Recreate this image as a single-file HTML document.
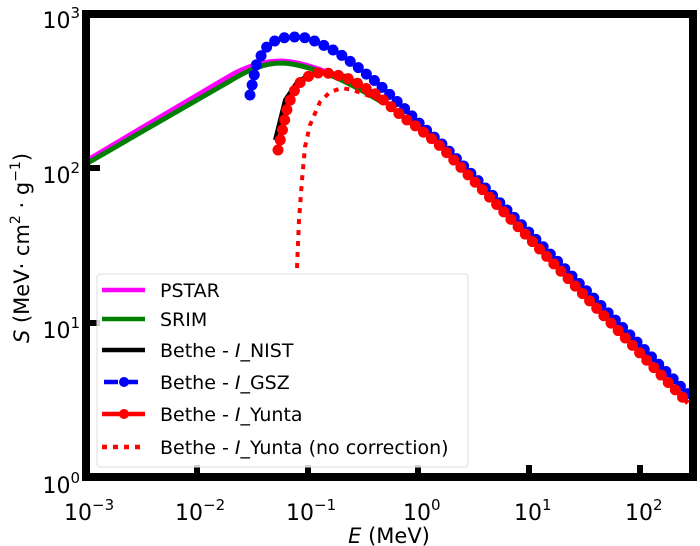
<!DOCTYPE html>
<html><head><meta charset="utf-8"><style>
html,body{margin:0;padding:0;background:#fff;}
svg{display:block;font-family:"DejaVu Sans","Liberation Sans",sans-serif;}
</style></head><body>
<svg width="700" height="546" viewBox="0 0 700 546" xmlns="http://www.w3.org/2000/svg">
<rect width="700" height="546" fill="#fff"/>
<!-- ticks -->
<g fill="#000">
<rect x="194" y="465" width="6" height="9"/>
<rect x="305" y="465" width="6" height="9"/>
<rect x="415" y="465" width="6" height="9"/>
<rect x="526" y="465" width="6" height="9"/>
<rect x="637" y="465" width="6" height="9"/>
<rect x="89" y="165" width="11" height="6"/>
<rect x="89" y="320" width="11" height="6"/>
</g>
<!-- SRIM / PSTAR -->
<path d="M86,163 L150,125 L228,79 C245,69 262,63 282,63 C300,64 315,70 330,75 C345,81 360,89 380,101" fill="none" stroke="#ff00ff" stroke-width="5" transform="translate(0,-2)"/>
<path d="M86,164 L150,127 L230,81 C248,70 264,63 282,63 C300,64 315,70 330,75 C345,81 360,89 380,101" fill="none" stroke="#008000" stroke-width="5"/>
<!-- NIST black -->
<path d="M275,140 L285,100 L297,82 L310,74 L327,72 L345,76" fill="none" stroke="#000" stroke-width="4"/>
<!-- dotted red -->
<path d="M297,268 L299,220 L302,180 L305,147 L310,125 L320,102 L330,92 L342,88 L353,90 L380,100" fill="none" stroke="#f00" stroke-width="4" stroke-dasharray="5 6"/>
<!-- blue -->
<path d="M250,95 L257,62 L268,45 L278,39 L288,37 L298,37 L307,38 L317,42 L327,47 L337,52 L347,59 L355,65 L365,73 L375,81 L385,90 L403,107 L423,127 L443,145 L690,396" fill="none" stroke="#00f" stroke-width="4" stroke-dasharray="14 6"/>
<path d="M250,95 L257,62 L268,45 L278,39 L288,37 L298,37 L307,38 L317,42 L327,47 L337,52 L347,59 L355,65 L365,73 L375,81 L385,90 L403,107 L423,127 L443,145 L690,396" fill="none" stroke="#00f" stroke-width="11" stroke-linecap="round" stroke-dasharray="0 10.3"/>
<!-- red -->
<path d="M278,150 L288,105 L297,85 L307,77 L317,73 L327,73 L337,75 L347,78 L357,83 L367,89 L377,95 L387,103 L397,112 L407,120 L417,127 L427,135 L437,143 L447,153 L688,403" fill="none" stroke="#f00" stroke-width="5"/>
<path d="M278,150 L288,105 L297,85 L307,77 L317,73 L327,73 L337,75 L347,78 L357,83 L367,89 L377,95 L387,103 L397,112 L407,120 L417,127 L427,135 L437,143 L447,153 L688,403" fill="none" stroke="#f00" stroke-width="11" stroke-linecap="round" stroke-dasharray="0 10.3"/>
<!-- legend -->
<rect x="97" y="274" width="371" height="193" rx="3" fill="#fff" fill-opacity="0.8" stroke="#ddd" stroke-width="1"/>
<g stroke-width="4.5" fill="none">
<line x1="102" y1="290" x2="145" y2="290" stroke="#ff00ff"/>
<line x1="102" y1="319" x2="145" y2="319" stroke="#008000"/>
<line x1="102" y1="350" x2="145" y2="350" stroke="#000"/>
<line x1="104" y1="382" x2="144" y2="382" stroke="#00f" stroke-dasharray="14 6"/>
<line x1="102" y1="414" x2="145" y2="414" stroke="#f00"/>
<line x1="102" y1="447" x2="145" y2="447" stroke="#f00" stroke-dasharray="5 6"/>
</g>
<circle cx="124" cy="382" r="5" fill="#00f"/>
<circle cx="124" cy="414" r="5" fill="#f00"/>
<g font-size="19" fill="#000">
<text x="160" y="297">PSTAR</text>
<text x="160" y="326">SRIM</text>
<text x="160" y="357">Bethe - <tspan font-style="italic">I</tspan>_NIST</text>
<text x="160" y="389">Bethe - <tspan font-style="italic">I</tspan>_GSZ</text>
<text x="160" y="421">Bethe - <tspan font-style="italic">I</tspan>_Yunta</text>
<text x="160" y="454">Bethe - <tspan font-style="italic">I</tspan>_Yunta (no correction)</text>
</g>
<!-- frame -->
<rect x="86" y="14" width="607" height="463" fill="none" stroke="#000" stroke-width="8"/>
<!-- y tick labels -->
<g font-size="22" fill="#000" text-anchor="end">
<text x="80" y="28">10<tspan font-size="15" dy="-10">3</tspan></text>
<text x="80" y="183">10<tspan font-size="15" dy="-10">2</tspan></text>
<text x="80" y="338">10<tspan font-size="15" dy="-10">1</tspan></text>
<text x="80" y="493">10<tspan font-size="15" dy="-10">0</tspan></text>
</g>
<!-- x tick labels -->
<g font-size="22" fill="#000">
<text x="64" y="520">10<tspan font-size="15" dy="-10">−3</tspan></text>
<text x="175" y="520">10<tspan font-size="15" dy="-10">−2</tspan></text>
<text x="286" y="520">10<tspan font-size="15" dy="-10">−1</tspan></text>
<text x="403" y="520">10<tspan font-size="15" dy="-10">0</tspan></text>
<text x="514" y="520">10<tspan font-size="15" dy="-10">1</tspan></text>
<text x="625" y="520">10<tspan font-size="15" dy="-10">2</tspan></text>
</g>
<text x="389" y="543" font-size="21" text-anchor="middle"><tspan font-style="italic">E</tspan> (MeV)</text>
<text transform="translate(29,248) rotate(-90)" font-size="21" text-anchor="middle"><tspan font-style="italic">S</tspan> (MeV· cm<tspan font-size="14" dy="-9">2</tspan><tspan dy="9"> · g</tspan><tspan font-size="14" dy="-9">−1</tspan><tspan dy="9">)</tspan></text>
</svg>
</body></html>
